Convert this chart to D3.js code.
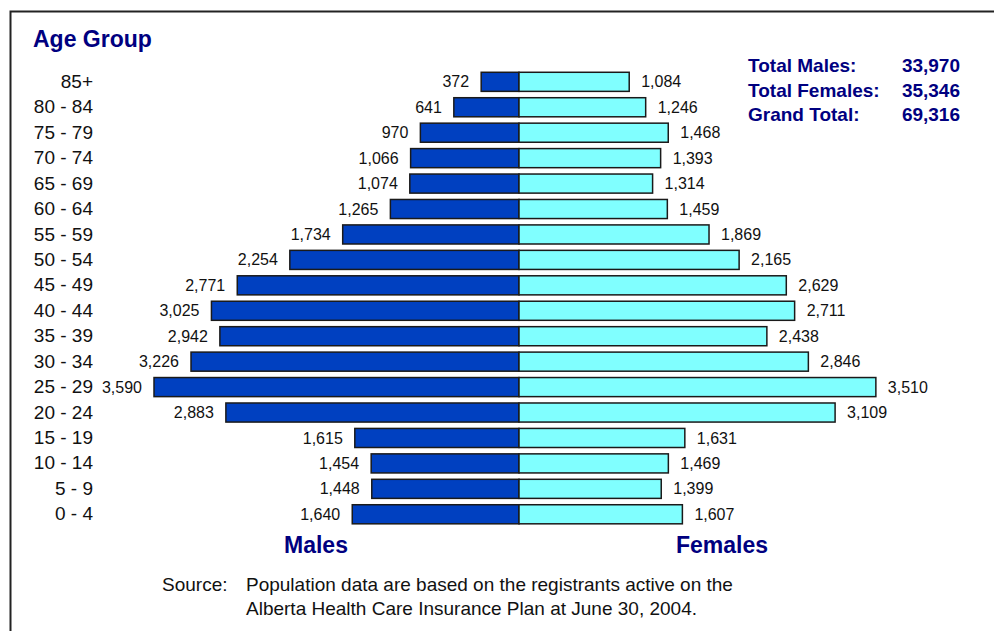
<!DOCTYPE html>
<html>
<head>
<meta charset="utf-8">
<script src="https://cdn.jsdelivr.net/npm/d3@7"></script>
<style>
  html, body { margin: 0; padding: 0; background: #fff; }
  svg { display: block; font-family: Arial, "Liberation Sans", sans-serif; }
</style>
</head>
<body>
<svg id="chart" width="994" height="631"></svg>
<script>
// Age groups, oldest at the top
const ageGroups = ["85+", "80 - 84", "75 - 79", "70 - 74", "65 - 69", "60 - 64", "55 - 59",
  "50 - 54", "45 - 49", "40 - 44", "35 - 39", "30 - 34", "25 - 29", "20 - 24",
  "15 - 19", "10 - 14", "5 - 9", "0 - 4"];
const males = [372, 641, 970, 1066, 1074, 1265, 1734, 2254, 2771, 3025, 2942, 3226, 3590, 2883,
  1615, 1454, 1448, 1640];
const females = [1084, 1246, 1468, 1393, 1314, 1459, 1869, 2165, 2629, 2711, 2438, 2846, 3510, 3109,
  1631, 1469, 1399, 1607];
const totalLabels = ["Total Males:", "Total Females:", "Grand Total:"];
const totalValues = ["33,970", "35,346", "69,316"];
const sourceLines = ["Population data are based on the registrants active on the",
  "Alberta Health Care Insurance Plan at June 30, 2004."];

const svg = d3.select("#chart");
const navy = "#000080";
const fmt = d3.format(",");

// Frame (right and bottom edges sit outside the view)
svg.append("rect")
  .attr("x", 10.5).attr("y", 11.5)
  .attr("width", 1100).attr("height", 800)
  .attr("fill", "none").attr("stroke", "#222").attr("stroke-width", 2);

const centerX = 519;
const len = d3.scaleLinear().domain([0, 3590]).range([0, 365]);
const y = d3.scaleBand().domain(ageGroups).range([69.1, 527.0])
  .paddingInner(0.25).paddingOuter(0.125);

const rows = ageGroups.map((g, i) => ({ g, m: males[i], f: females[i] }));

// Male bars (extend left from centre)
svg.append("g").selectAll("rect").data(rows).join("rect")
  .attr("x", d => centerX - len(d.m))
  .attr("y", d => y(d.g))
  .attr("width", d => len(d.m))
  .attr("height", y.bandwidth())
  .attr("fill", "#0040c0")
  .attr("stroke", "#1a1a1a").attr("stroke-width", 1.5);

// Female bars (extend right from centre)
svg.append("g").selectAll("rect").data(rows).join("rect")
  .attr("x", centerX)
  .attr("y", d => y(d.g))
  .attr("width", d => len(d.f))
  .attr("height", y.bandwidth())
  .attr("fill", "#80ffff")
  .attr("stroke", "#1a1a1a").attr("stroke-width", 1.5);

// Value labels
svg.append("g").selectAll("text").data(rows).join("text")
  .attr("x", d => centerX - len(d.m) - 12)
  .attr("y", d => y(d.g) + y.bandwidth() / 2)
  .attr("dy", "0.35em")
  .attr("text-anchor", "end")
  .attr("font-size", 16).attr("fill", "#111")
  .text(d => fmt(d.m));

svg.append("g").selectAll("text").data(rows).join("text")
  .attr("x", d => centerX + len(d.f) + 12)
  .attr("y", d => y(d.g) + y.bandwidth() / 2)
  .attr("dy", "0.35em")
  .attr("text-anchor", "start")
  .attr("font-size", 16).attr("fill", "#111")
  .text(d => fmt(d.f));

// Age axis labels
const yAxis = d3.axisLeft(y).tickSize(0).tickPadding(0);
const ax = svg.append("g").attr("transform", "translate(93,0)").call(yAxis);
ax.select(".domain").remove();
ax.selectAll("text").attr("font-size", 19).attr("fill", "#111")
  .attr("font-family", "Arial, 'Liberation Sans', sans-serif");

// Axis title
svg.append("text").attr("x", 33).attr("y", 47)
  .attr("font-size", 23).attr("font-weight", "bold").attr("fill", navy)
  .text("Age Group");

// Totals block
const tot = svg.append("g").attr("font-size", 19).attr("font-weight", "bold").attr("fill", navy);
totalLabels.forEach((t, i) => {
  tot.append("text").attr("x", 748).attr("y", 72 + i * 24.6).text(t);
  tot.append("text").attr("x", 960).attr("y", 72 + i * 24.6)
    .attr("text-anchor", "end").text(totalValues[i]);
});

// Sex labels
svg.append("text").attr("x", 316).attr("y", 553).attr("text-anchor", "middle")
  .attr("font-size", 23).attr("font-weight", "bold").attr("fill", navy).text("Males");
svg.append("text").attr("x", 722).attr("y", 553).attr("text-anchor", "middle")
  .attr("font-size", 23).attr("font-weight", "bold").attr("fill", navy).text("Females");

// Source note
const src = svg.append("g").attr("font-size", 19).attr("fill", "#111");
src.append("text").attr("x", 162).attr("y", 591).text("Source:");
sourceLines.forEach((s, i) => {
  src.append("text").attr("x", 246).attr("y", 591 + i * 24).text(s);
});
</script>
</body>
</html>
